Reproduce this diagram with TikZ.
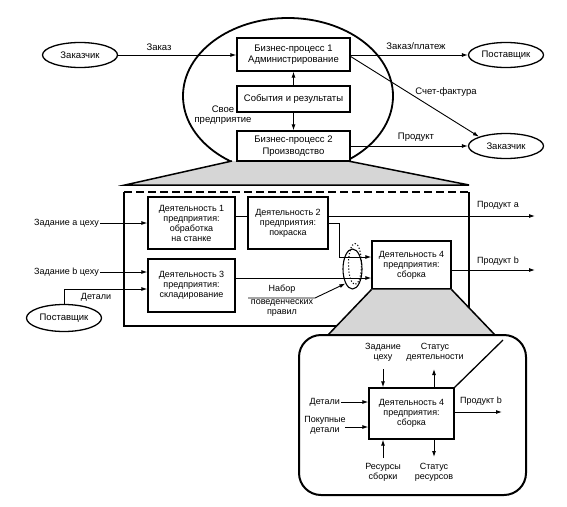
\documentclass[tikz,border=0pt]{standalone}
\usepackage{fontspec}
\setmainfont{Liberation Sans}
\usetikzlibrary{arrows.meta,shapes.geometric}
\begin{document}
\begin{tikzpicture}[x=1pt,y=-1pt,
  box/.style={draw,line width=1.3pt,fill=white,inner sep=0pt,align=center,font=\fontsize{9}{10}\selectfont},
  topbox/.style={box,font=\fontsize{9.5}{11.5}\selectfont},
  oval/.style={draw,ellipse,line width=1.3pt,fill=white,minimum width=75pt,minimum height=25pt,inner sep=0pt,font=\fontsize{9.5}{11}\selectfont},
  lbl/.style={font=\fontsize{9}{10}\selectfont,inner sep=1pt,align=center},
  toplbl/.style={font=\fontsize{9.5}{10}\selectfont,inner sep=1pt,align=center},
  arr/.style={line width=0.9pt,-{Latex[length=6pt,width=4pt]}},
  ln/.style={line width=0.9pt},
  shade/.style={fill=black!16,line width=1.5pt},
]
\useasboundingbox (0,0) rectangle (567,506);

% ---------- top level ----------
\begin{scope}
  \clip (150,0) rectangle (420,161);
  \draw[line width=1.8pt] (288,96) ellipse [x radius=105pt, y radius=78pt];
\end{scope}
\fill[shade] (232,161) -- (125,185) -- (469,185) -- (348,161) -- cycle;
\draw[line width=1.5pt] (232,161) -- (125,185) -- (469,185) -- (348,161);

\node[topbox,minimum width=113pt,minimum height=33pt] (bp1) at (293.5,54.5) {Бизнес-процесс 1\\Администрирование};
\node[topbox,minimum width=113pt,minimum height=26pt] (sob) at (293.5,99) {События и результаты};
\node[topbox,minimum width=113pt,minimum height=30pt] (bp2) at (293.5,146) {Бизнес-процесс 2\\Производство};

\node[oval] (zak1) at (80,55) {Заказчик};
\node[oval] (sup1) at (506,55) {Поставщик};
\node[oval] (zak2) at (506,146) {Заказчик};

\node[toplbl] (svoe) at (223,115) {Свое\\предприятие};
\node[toplbl] (lzak) at (159,47) {Заказ};
\node[toplbl] (lzp) at (416,46) {Заказ/платеж};
\node[toplbl] (lsf) at (446,92) {Счет-фактура};
\node[toplbl] (lprod) at (416,137) {Продукт};

\draw[arr] (zak1.east) -- (bp1.west |- zak1.east);
\draw[arr] (bp1.east |- sup1.west) -- (sup1.west);
\draw[arr] ([yshift=-2pt]bp1.east) -- (zak2.north west);
\draw[arr] (bp2.east) -- (zak2.west);
\draw[arr] (sob.north) -- (bp1.south);
\draw[arr] (sob.south) -- (bp2.north);

% ---------- middle level ----------
\draw[line width=2.5pt] (124,192) -- (124,326) -- (469,326) -- (469,192);
\draw[line width=2.5pt,dash pattern=on 8pt off 4pt] (124,192) -- (469,192);

\node[box,minimum width=87pt,minimum height=52pt] (a1) at (191.5,223) {Деятельность 1\\предприятия:\\обработка\\на станке};
\node[box,minimum width=80pt,minimum height=52pt] (a2) at (288,223) {Деятельность 2\\предприятия:\\покраска};
\node[box,minimum width=87pt,minimum height=53pt] (a3) at (191.5,285.5) {Деятельность 3\\предприятия:\\складирование};
\node[box,minimum width=79pt,minimum height=48pt] (a4) at (411.5,265) {Деятельность 4\\предприятия:\\сборка};

\node[lbl,anchor=east] (za) at (100,223) {Задание а цеху};
\node[lbl,anchor=east] (zb) at (100,272) {Задание b цеху};
\node[oval,minimum height=27pt] (sup2) at (64,318) {Поставщик};
\node[lbl] (ldet) at (96,297) {Детали};
\node[lbl] (lpa) at (498,205) {Продукт а};
\node[lbl] (lpb) at (498,261) {Продукт b};
\coordinate (pa) at (535,216);
\coordinate (pb) at (535,270);

\draw[arr] (za.east) -- (a1.west |- za.east);
\draw[arr] (zb.east) -- (a3.west |- zb.east);
\draw[arr] (sup2.north) |- ([yshift=-3.5pt]a3.west);
\draw[ln] ([yshift=7pt]a1.east) -- ([yshift=7pt]a2.west);
\draw[arr] ([yshift=7pt]a2.east) -- (pa);
\draw[arr] (a2.east) -- ++(11,0) |- ([yshift=8pt]a4.west);
\draw[arr] ([yshift=7.5pt]a3.east) -- ([yshift=-13pt]a4.west);
\draw[arr] ([yshift=-5pt]a4.east) -- (pb);

\node[draw,ellipse,line width=1.1pt,minimum width=19pt,minimum height=40pt,inner sep=0pt] (ell) at (352.5,269) {};
\node[draw,ellipse,dotted,line width=1.1pt,minimum width=13pt,minimum height=41pt,inner sep=0pt] (ell2) at (355,264) {};

\node[lbl] (nab) at (282,289) {Набор};
\node[lbl] (pov) at (282,303) {поведенческих};
\node[lbl] (prv) at (282,313) {правил};
\coordinate (nl) at (248,298);
\draw[arr] (nl) -- ++(67,0) -- (ell.south west);

% ---------- bottom level ----------
\fill[shade] (a4.south west) -- (327,336) -- (496,336) -- (a4.south east) -- cycle;
\draw[line width=1.5pt] (a4.south west) -- (327,336) (496,336) -- (a4.south east);
\draw[line width=2pt,rounded corners=22pt,fill=white] (299,335) rectangle (526,495);

\node[box,minimum width=85pt,minimum height=51pt] (ia4) at (411.5,413.5) {Деятельность 4\\предприятия:\\сборка};
\coordinate (corner) at (503,340);
\draw[line width=1.3pt] (ia4.north east) -- (corner);

\node[lbl] (lzc) at (383,352) {Задание\\цеху};
\node[lbl] (lsd) at (435,352) {Статус\\деятельности};
\node[lbl,anchor=east] (ldet2) at (341,402) {Детали};
\node[lbl] (lpd) at (325,425.5) {Покупные\\детали};
\node[lbl] (lpb2) at (481,401) {Продукт b};
\node[lbl] (lrs) at (383,472) {Ресурсы\\сборки};
\node[lbl] (lsr) at (434,472) {Статус\\ресурсов};

\coordinate (zc1) at (383,369);
\coordinate (sd1) at (434,369);
\coordinate (pd1) at (345,427);
\coordinate (pb2) at (502,412);
\coordinate (rs1) at (383,458);
\coordinate (sr1) at (434,457);

\draw[arr] (zc1) -- (zc1 |- ia4.north);
\draw[arr] (sd1 |- ia4.north) -- (sd1);
\draw[arr] (ldet2.east) -- (ia4.west |- ldet2.east);
\draw[arr] (pd1) -- (ia4.west |- pd1);
\draw[arr] (ia4.east |- pb2) -- (pb2);
\draw[arr] (rs1) -- (rs1 |- ia4.south);
\draw[arr] (sr1 |- ia4.south) -- (sr1);
\end{tikzpicture}
\end{document}
